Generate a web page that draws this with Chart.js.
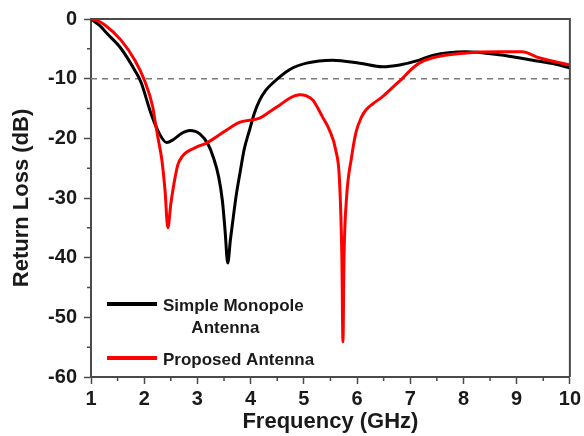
<!DOCTYPE html>
<html>
<head>
<meta charset="utf-8">
<script src="https://cdn.jsdelivr.net/npm/chart.js@4"></script>
<style>
  body { margin: 0; background: #fff; }
  #wrap { width: 584px; height: 436px; }
</style>
</head>
<body>
<div id="wrap"><canvas id="grafico"></canvas></div>
<script>
// dados
const freqMonopolo = [1.0, 1.15, 1.32, 1.56, 1.83, 1.94, 2.13, 2.29, 2.42, 2.55, 2.7, 2.86, 3.05, 3.2, 3.3, 3.4, 3.47, 3.52, 3.57, 3.62, 3.66, 3.73, 3.8, 3.88, 3.98, 4.07, 4.17, 4.28, 4.42, 4.73, 5.05, 5.54, 6.05, 6.48, 6.8, 7.17, 7.42, 8.05, 8.67, 9.3, 9.7, 10.0];
const rlMonopolo = [0, -1.0, -2.6, -4.9, -8.7, -10.6, -15.9, -19.3, -20.7, -20.2, -19.2, -18.7, -19.3, -21, -23.2, -26.5, -30.5, -35.5, -40.9, -37, -34.2, -29.5, -25.8, -21.8, -18.6, -15.8, -13.6, -12.0, -10.7, -8.5, -7.4, -6.9, -7.4, -8, -7.7, -6.9, -6.1, -5.5, -6.0, -6.9, -7.5, -8.2];

const freqProposta = [1.0, 1.1, 1.26, 1.56, 1.83, 2.01, 2.16, 2.2, 2.26, 2.33, 2.39, 2.445, 2.5, 2.54, 2.63, 2.72, 2.8, 3.0, 3.17, 3.4, 3.6, 3.8, 4.17, 4.35, 4.55, 4.75, 4.92, 5.05, 5.17, 5.35, 5.48, 5.6, 5.67, 5.715, 5.735, 5.755, 5.8, 5.9, 5.98, 6.08, 6.17, 6.3, 6.48, 6.7, 6.86, 7.0, 7.17, 7.42, 8.05, 8.67, 9.1, 9.42, 10.0];
const rlProposta = [0, -0.2, -1.0, -3.5, -7, -10.4, -14.7, -16.9, -20, -23.5, -28.6, -35, -31, -28.6, -24.5, -23, -22.3, -21.4, -20.8, -19.5, -18.3, -17.3, -16.6, -15.6, -14.4, -13.2, -12.7, -12.9, -13.6, -16.4, -18.6, -22, -27, -40, -54.1, -40, -30.3, -23, -19, -16.5, -15.2, -14.2, -13, -11.2, -9.9, -8.6, -7.4, -6.5, -5.7, -5.5, -5.5, -6.5, -7.7];

const limiar = -10;
const xTicks = [1, 2, 3, 4, 5, 6, 7, 8, 9, 10];
const yTicks = [0, -10, -20, -30, -40, -50, -60];
const xMinor = [1.5, 2.5, 3.5, 4.5, 5.5, 6.5, 7.5, 8.5, 9.5];
const yMinor = [-5, -15, -25, -35, -45, -55];

const fonte = "'Liberation Sans', Arial, sans-serif";
const corEixo = "#4a4a4a";

function pontos(xs, ys) {
  return xs.map((x, i) => ({ x: x, y: ys[i] }));
}

// moldura, ticks menores e legenda dentro da área
const extras = {
  id: "extras",
  afterDatasetsDraw(chart) {
    const ctx = chart.ctx;
    const a = chart.chartArea;
    const sx = chart.scales.x;
    const sy = chart.scales.y;
    ctx.save();
    ctx.strokeStyle = corEixo;
    ctx.lineWidth = 2;
    ctx.beginPath();
    ctx.moveTo(a.left, a.top);
    ctx.lineTo(a.right, a.top);
    ctx.lineTo(a.right, a.bottom);
    ctx.stroke();

    ctx.lineWidth = 1.5;
    ctx.beginPath();
    xMinor.forEach(v => {
      const px = sx.getPixelForValue(v);
      ctx.moveTo(px, a.bottom);
      ctx.lineTo(px, a.bottom + 4);
    });
    yMinor.forEach(v => {
      const py = sy.getPixelForValue(v);
      ctx.moveTo(a.left, py);
      ctx.lineTo(a.left - 4, py);
    });
    ctx.stroke();

    // legenda
    const ds = chart.data.datasets;
    const itens = [
      { d: ds[1], linhas: ["Simple Monopole", "Antenna"], y: 304 },
      { d: ds[0], linhas: ["Proposed Antenna"], y: 358 }
    ];
    ctx.font = "bold 17px " + fonte;
    ctx.fillStyle = "#1a1a1a";
    ctx.textBaseline = "middle";
    itens.forEach(it => {
      ctx.strokeStyle = it.d.borderColor;
      ctx.lineWidth = 4;
      ctx.beginPath();
      ctx.moveTo(a.left + 16, it.y);
      ctx.lineTo(a.left + 66, it.y);
      ctx.stroke();
      const x0 = a.left + 72;
      const w0 = ctx.measureText(it.linhas[0]).width;
      ctx.textAlign = "left";
      ctx.fillText(it.linhas[0], x0, it.y + 2);
      if (it.linhas[1]) {
        ctx.textAlign = "center";
        ctx.fillText(it.linhas[1], x0 + w0 / 2 - 8, it.y + 24);
      }
    });
    ctx.restore();
  }
};

const ctx = document.getElementById("grafico").getContext("2d");
new Chart(ctx, {
  type: "scatter",
  data: {
    datasets: [
      {
        label: "Proposed Antenna",
        data: pontos(freqProposta, rlProposta),
        borderColor: "#ff0000",
        borderWidth: 3,
        showLine: true,
        pointRadius: 0,
        cubicInterpolationMode: "monotone",
        order: 0
      },
      {
        label: "Simple Monopole Antenna",
        data: pontos(freqMonopolo, rlMonopolo),
        borderColor: "#000000",
        borderWidth: 3,
        showLine: true,
        pointRadius: 0,
        cubicInterpolationMode: "monotone",
        order: 1
      },
      {
        label: "-10 dB",
        data: pontos([xTicks[0], xTicks[xTicks.length - 1]], [limiar, limiar]),
        borderColor: "#7a7a7a",
        borderWidth: 1.5,
        borderDash: [6, 5],
        showLine: true,
        pointRadius: 0,
        order: 2
      }
    ]
  },
  options: {
    responsive: true,
    maintainAspectRatio: false,
    animation: false,
    layout: { padding: { top: 19, right: 13, left: 0, bottom: 0 } },
    plugins: {
      legend: { display: false },
      tooltip: { enabled: false }
    },
    scales: {
      x: {
        type: "linear",
        min: 1,
        max: 10,
        afterBuildTicks: s => { s.ticks = xTicks.map(v => ({ value: v })); },
        afterFit: s => { s.height = 59; },
        ticks: {
          color: "#1a1a1a",
          padding: 3,
          font: { family: fonte, size: 20, weight: "bold" }
        },
        grid: { drawOnChartArea: false, tickLength: 7, tickColor: corEixo, tickWidth: 1.5 },
        border: { color: corEixo, width: 2 },
        title: {
          display: true,
          text: "Frequency (GHz)",
          color: "#1a1a1a",
          padding: { bottom: 1, top: 0 },
          font: { family: fonte, size: 22, weight: "bold" }
        }
      },
      y: {
        min: -60,
        max: 0,
        afterBuildTicks: s => { s.ticks = yTicks.map(v => ({ value: v })); },
        afterFit: s => { s.width = 91; },
        ticks: {
          color: "#1a1a1a",
          padding: 7,
          font: { family: fonte, size: 20, weight: "bold" }
        },
        grid: { drawOnChartArea: false, tickLength: 7, tickColor: corEixo, tickWidth: 1.5 },
        border: { color: corEixo, width: 2 },
        title: {
          display: true,
          text: "Return Loss (dB)",
          color: "#1a1a1a",
          padding: { top: 9, bottom: 0 },
          font: { family: fonte, size: 22, weight: "bold" }
        }
      }
    }
  },
  plugins: [extras]
});
</script>
</body>
</html>
